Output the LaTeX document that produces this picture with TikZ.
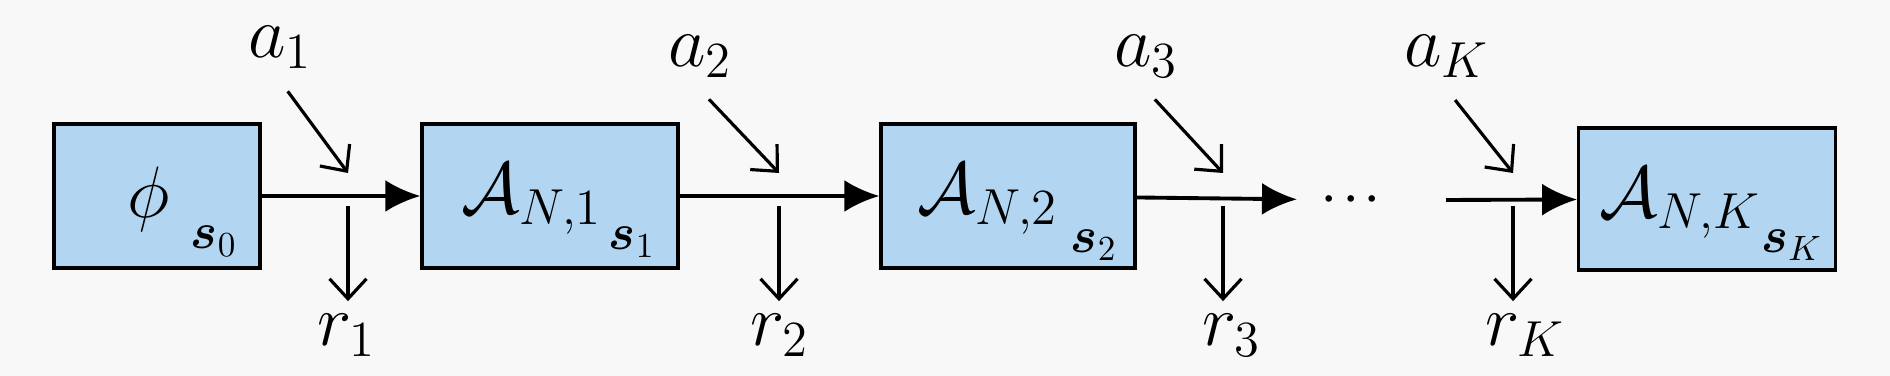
\documentclass[tikz,border=0pt]{standalone}
\usepackage{amsmath,amssymb}
\usetikzlibrary{positioning,arrows.meta,calc}
\definecolor{boxblue}{RGB}{178,214,241}
\definecolor{paper}{RGB}{248,248,248}

\begin{document}
\begin{tikzpicture}[x=0.1mm,y=-0.1mm,
  statebox/.style={draw, line width=0.95pt, fill=boxblue, minimum height=14.4mm, inner sep=0pt},
  big/.style={font=\huge, inner sep=1.2mm},
  small/.style={font=\Large, inner sep=0pt},
  flow/.style={-{Latex[length=3.5mm,width=3.2mm]}, line width=1.1pt},
  side/.style={-{Straight Barb[length=2mm,width=3.7mm]}, line width=0.9pt}]
\fill[paper] (0,0) rectangle (1890,376);
% states
\node[statebox, minimum width=20.6mm] (b0) at (157,196) {};
\node[statebox, minimum width=25.6mm] (b1) at (550,196) {};
\node[statebox, minimum width=25.4mm] (b2) at (1008,196) {};
\node[statebox, minimum width=25.65mm, minimum height=14.2mm] (bK) at (1707,199) {};
\node[big, inner sep=0pt] (phi) at (149,199) {$\phi$};
\node[big, inner sep=0pt] (A1) at (532,199) {$\mathcal{A}_{N,1}$};
\node[big, inner sep=0pt] (A2) at (988,199) {$\mathcal{A}_{N,2}$};
\node[big, inner sep=0pt] (AK) at (1680,203) {$\mathcal{A}_{N,K}$};
\node[small] (s0) at (214,241) {$\boldsymbol{s}_0$};
\node[small] (s1) at (632,242) {$\boldsymbol{s}_1$};
\node[small] (s2) at (1094,245) {$\boldsymbol{s}_2$};
\node[small] (sK) at (1792,245) {$\boldsymbol{s}_K$};
\node[font=\large, inner sep=2.5mm] (dots) at (1355,200) {$\boldsymbol{\cdots}$};
\coordinate (c3) at (1446,200);
% transitions
\draw[flow] (b0) -- (b1);
\draw[flow] (b1) -- (b2);
\draw[flow] (b2) -- (dots);
\draw[flow] (c3) -- (bK);
% actions and rewards
\foreach \i/\x/\ax/\ay/\rx in {1/348/280/47/347, 2/779/700/56/780, 3/1223/1146/56/1232, K/1513/1447/56/1525}{
  \node[big] (a\i) at (\ax,\ay) {$a_{\i}$};
  \node[big] (r\i) at (\rx,335) {$r_{\i}$};
  \coordinate (j\i) at (\x,173);
  \coordinate (d\i) at (\x,206);
  \draw[side, shorten <=1.3mm] (a\i.south) -- (j\i);
  \draw[side] (d\i) -- (d\i |- r\i.north);
}
\end{tikzpicture}
\end{document}
